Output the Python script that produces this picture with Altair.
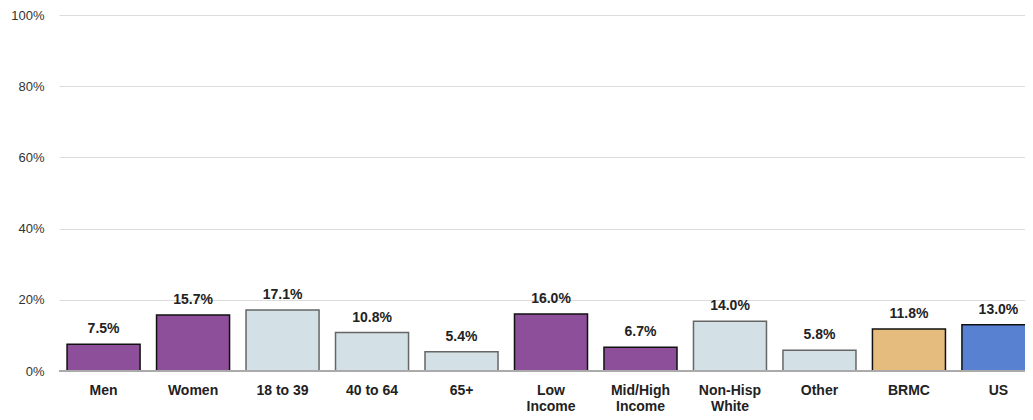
import altair as alt
import pandas as pd

categories = ["Men", "Women", "18 to 39", "40 to 64", "65+", "Low|Income",
              "Mid/High|Income", "Non-Hisp|White", "Other", "BRMC", "US"]
values = [7.5, 15.7, 17.1, 10.8, 5.4, 16.0, 6.7, 14.0, 5.8, 11.8, 13.0]
groups = ["sex", "sex", "age", "age", "age", "income", "income", "race", "race", "brmc", "us"]

group_domain = ["sex", "age", "income", "race", "brmc", "us"]
fill_range = ["#8D4F99", "#D3E0E5", "#8D4F99", "#D3E0E5", "#E5BC7E", "#5981D2"]
stroke_range = ["#111111", "#666666", "#111111", "#666666", "#111111", "#111111"]

df = pd.DataFrame({"cat": categories, "val": values, "grp": groups})
df["lbl"] = df["val"].map(lambda v: f"{v:.1f}%")

x = alt.X("cat:N", sort=categories, title=None,
          scale=alt.Scale(range=[0, 984], paddingInner=0.184, paddingOuter=0.09),
          axis=alt.Axis(labelAngle=0, labelExpr="split(datum.label, '|')",
                        labelFont="Liberation Sans", labelFontSize=14, labelFontWeight="bold",
                        labelColor="#222222", labelPadding=12, labelLineHeight=16,
                        ticks=False, domain=False, grid=False))
y = alt.Y("val:Q", title=None,
          scale=alt.Scale(domain=[0, 100]),
          axis=alt.Axis(values=[0, 20, 40, 60, 80, 100], labelExpr="datum.value + '%'",
                        labelFont="Liberation Sans", labelFontSize=13, labelColor="#333333",
                        labelPadding=15, ticks=False, domain=False,
                        gridColor="#dcdcdc", gridWidth=1))

base = alt.Chart(df)

bars = base.mark_bar(strokeWidth=1.5).encode(
    x=x, y=y,
    fill=alt.Fill("grp:N", scale=alt.Scale(domain=group_domain, range=fill_range), legend=None),
    stroke=alt.Stroke("grp:N", scale=alt.Scale(domain=group_domain, range=stroke_range), legend=None),
)

labels = base.mark_text(font="Liberation Sans", fontSize=14, fontWeight="bold",
                        color="#222222", baseline="middle", dy=-15).encode(
    x=alt.X("cat:N", sort=categories), y=alt.Y("val:Q"), text="lbl:N")

zero = alt.Chart(pd.DataFrame({"z": [0]})).mark_rule(color="#aaaaaa", strokeWidth=2).encode(
    y=alt.Y("z:Q"))

chart = alt.layer(bars, labels, zero).properties(
    width=966, height=356,
    autosize=alt.AutoSizeParams(type="none"),
    padding={"left": 51, "top": 7, "right": 0, "bottom": 41},
).configure_view(stroke=None)

chart.save("out.html", embed_options={"renderer": "svg", "actions": False})
